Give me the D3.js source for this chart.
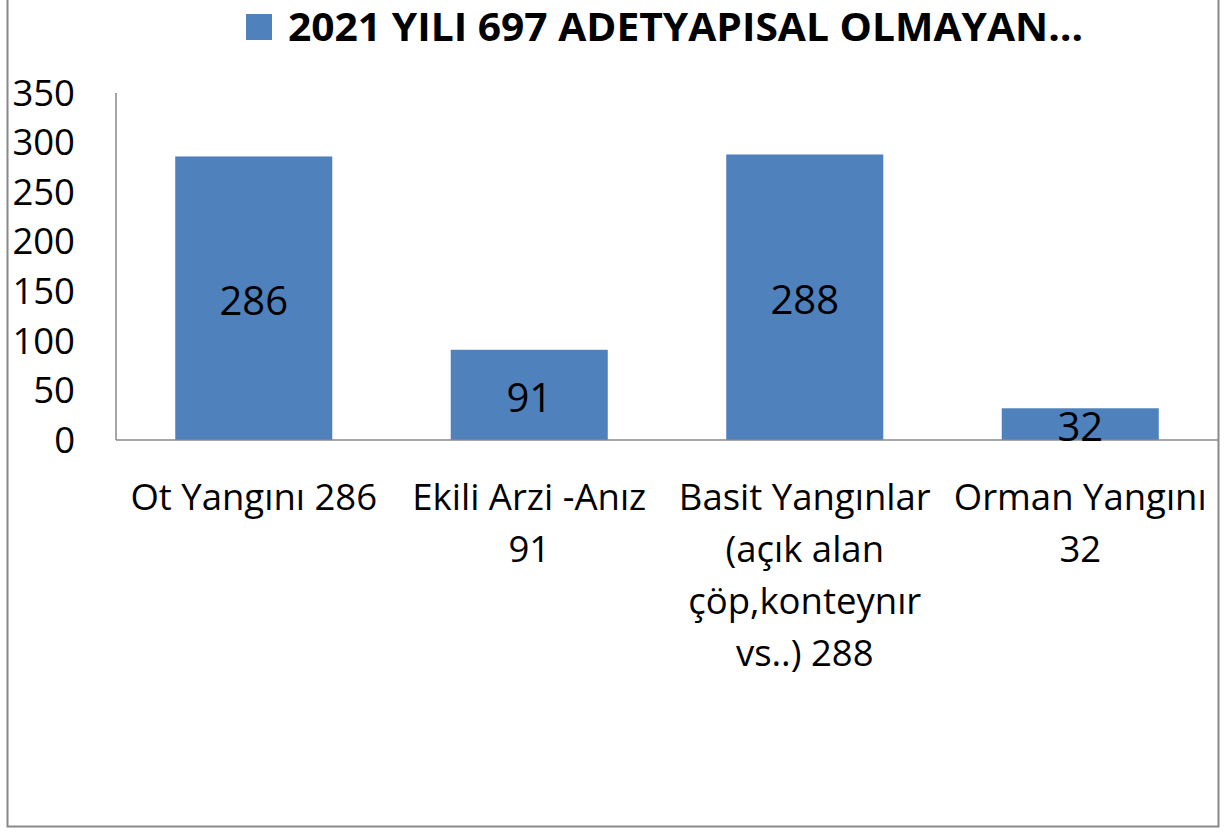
<!DOCTYPE html>
<html>
<head>
<meta charset="utf-8">
<script src="https://cdn.jsdelivr.net/npm/d3@7"></script>
<style>
  body { margin: 0; background: #fff; }
  svg { display: block; font-family: "Open Sans", "Noto Sans", sans-serif; }
</style>
</head>
<body>
<svg id="chart" width="1229" height="833"></svg>
<script>
// data
var categories = ["Ot Yangını 286", "Ekili Arzi -Anız 91", "Basit Yangınlar (açık alan çöp,konteynır vs..) 288", "Orman Yangını 32"];
var categoryLines = [
  ["Ot Yangını 286"],
  ["Ekili Arzi -Anız", "91"],
  ["Basit Yangınlar", "(açık alan", "çöp,konteynır", "vs..) 288"],
  ["Orman Yangını", "32"]
];
var values = [286, 91, 288, 32];
var yTicks = [0, 50, 100, 150, 200, 250, 300, 350];
var seriesName = "2021 YILI 697 ADETYAPISAL OLMAYAN…";

var svg = d3.select("#chart");
var barColor = "#4F81BD";

// outer frame (top edge lies above the visible area)
svg.append("rect")
  .attr("x", 7.5).attr("y", -10)
  .attr("width", 1211).attr("height", 836.5)
  .attr("fill", "none").attr("stroke", "#888").attr("stroke-width", 2);

var plot = {left: 116, right: 1218, top: 93, bottom: 440};

var x = d3.scaleBand()
  .domain(categories)
  .range([plot.left, plot.right])
  .paddingInner(0.43).paddingOuter(0.215);

var y = d3.scaleLinear().domain([0, 350]).range([plot.bottom, plot.top]);

// bars
svg.selectAll("rect.bar")
  .data(values)
  .enter().append("rect")
  .attr("class", "bar")
  .attr("x", function(d, i) { return x(categories[i]); })
  .attr("y", function(d) { return y(d); })
  .attr("width", x.bandwidth())
  .attr("height", function(d) { return y(0) - y(d); })
  .attr("fill", barColor);

// axes lines
svg.append("line")
  .attr("x1", plot.left).attr("x2", plot.left)
  .attr("y1", plot.top).attr("y2", plot.bottom)
  .attr("stroke", "#888").attr("stroke-width", 1.5);
svg.append("line")
  .attr("x1", plot.left).attr("x2", plot.right)
  .attr("y1", plot.bottom).attr("y2", plot.bottom)
  .attr("stroke", "#888").attr("stroke-width", 1.5);

// y tick labels
svg.selectAll("text.ytick")
  .data(yTicks)
  .enter().append("text")
  .attr("class", "ytick")
  .attr("x", 75)
  .attr("y", function(d) { return y(d); })
  .attr("dy", "0.35em")
  .attr("text-anchor", "end")
  .attr("font-size", 36.5)
  .attr("fill", "#000")
  .text(function(d) { return d; });

// data labels in the middle of each bar
svg.selectAll("text.val")
  .data(values)
  .enter().append("text")
  .attr("class", "val")
  .attr("x", function(d, i) { return x(categories[i]) + x.bandwidth() / 2; })
  .attr("y", function(d) { return (y(d) + y(0)) / 2 + 3; })
  .attr("dy", "0.35em")
  .attr("text-anchor", "middle")
  .attr("font-size", 40)
  .attr("fill", "#000")
  .text(function(d) { return d; });

// category labels
categoryLines.forEach(function(lines, i) {
  var cx = x(categories[i]) + x.bandwidth() / 2;
  lines.forEach(function(t, j) {
    svg.append("text")
      .attr("x", cx)
      .attr("y", 497 + j * 52)
      .attr("dy", "0.35em")
      .attr("text-anchor", "middle")
      .attr("font-size", 36.5)
      .attr("fill", "#000")
      .text(t);
  });
});

// legend / title
svg.append("rect")
  .attr("x", 246).attr("y", 14)
  .attr("width", 26).attr("height", 26)
  .attr("fill", barColor);
svg.append("text")
  .attr("x", 288).attr("y", 41)
  .attr("font-size", 39)
  .attr("font-weight", "bold")
  .attr("textLength", 795)
  .attr("lengthAdjust", "spacingAndGlyphs")
  .attr("fill", "#000")
  .text(seriesName);
</script>
</body>
</html>
